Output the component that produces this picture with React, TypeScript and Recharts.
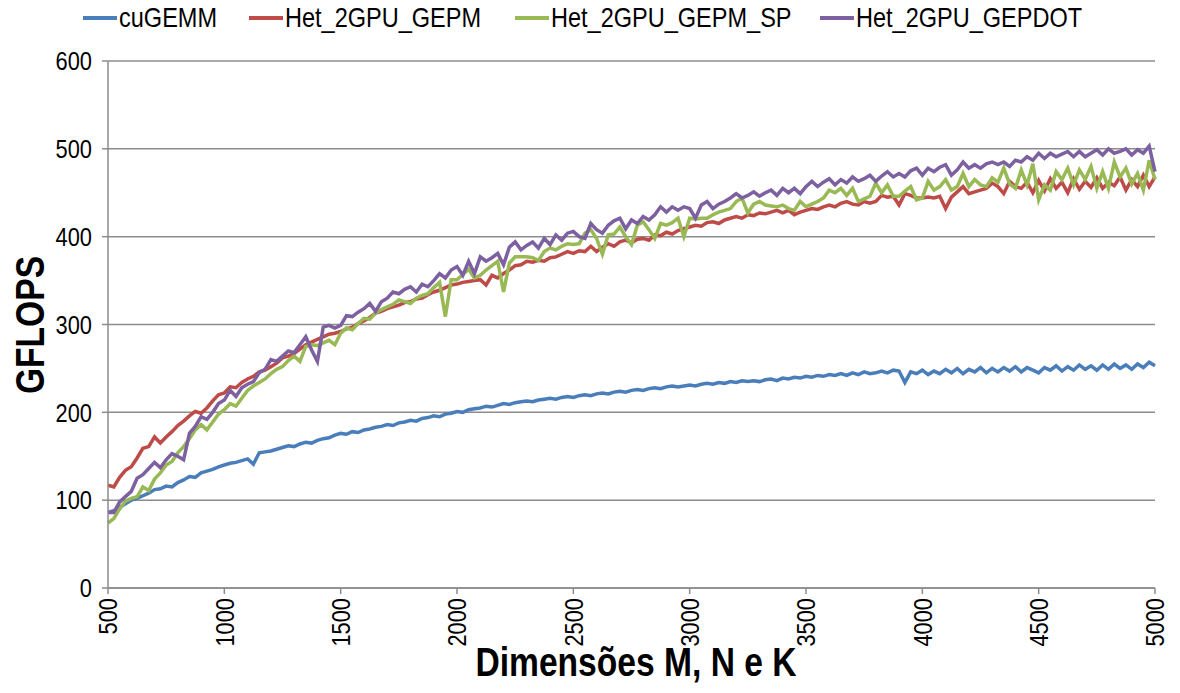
import React from 'react';
import { LineChart, Line, XAxis, YAxis, CartesianGrid } from 'recharts';

// matrix dimension M = N = K
const dims = [
  500, 525, 550, 575, 600, 625, 650, 675, 700, 725,
  750, 775, 800, 825, 850, 875, 900, 925, 950, 975,
  1000, 1025, 1050, 1075, 1100, 1125, 1150, 1175, 1200, 1225,
  1250, 1275, 1300, 1325, 1350, 1375, 1400, 1425, 1450, 1475,
  1500, 1525, 1550, 1575, 1600, 1625, 1650, 1675, 1700, 1725,
  1750, 1775, 1800, 1825, 1850, 1875, 1900, 1925, 1950, 1975,
  2000, 2025, 2050, 2075, 2100, 2125, 2150, 2175, 2200, 2225,
  2250, 2275, 2300, 2325, 2350, 2375, 2400, 2425, 2450, 2475,
  2500, 2525, 2550, 2575, 2600, 2625, 2650, 2675, 2700, 2725,
  2750, 2775, 2800, 2825, 2850, 2875, 2900, 2925, 2950, 2975,
  3000, 3025, 3050, 3075, 3100, 3125, 3150, 3175, 3200, 3225,
  3250, 3275, 3300, 3325, 3350, 3375, 3400, 3425, 3450, 3475,
  3500, 3525, 3550, 3575, 3600, 3625, 3650, 3675, 3700, 3725,
  3750, 3775, 3800, 3825, 3850, 3875, 3900, 3925, 3950, 3975,
  4000, 4025, 4050, 4075, 4100, 4125, 4150, 4175, 4200, 4225,
  4250, 4275, 4300, 4325, 4350, 4375, 4400, 4425, 4450, 4475,
  4500, 4525, 4550, 4575, 4600, 4625, 4650, 4675, 4700, 4725,
  4750, 4775, 4800, 4825, 4850, 4875, 4900, 4925, 4950, 4975,
  5000,
];

const cuGemm = [
  86, 88, 92, 96, 100, 102, 105, 108, 112, 113,
  116, 115, 120, 123, 127, 126, 131, 133, 135, 138,
  140, 142, 143, 145, 147, 141, 154, 155, 156, 158,
  160, 162, 161, 164, 166, 165, 168, 170, 171, 174,
  176, 175, 178, 177, 180, 181, 183, 184, 186, 185,
  188, 189, 191, 190, 193, 194, 196, 195, 198, 199,
  201, 200, 203, 204, 205, 207, 206, 208, 210, 209,
  211, 212, 213, 212, 214, 215, 216, 215, 217, 218,
  217, 219, 220, 219, 221, 222, 221, 223, 224, 223,
  225, 226, 225, 227, 228, 227, 229, 230, 229, 230,
  231, 230, 232, 233, 232, 234, 233, 235, 234, 236,
  235, 236, 235, 237, 238, 236, 239, 238, 240, 239,
  241, 240, 242, 241, 243, 242, 244, 242, 245, 243,
  246, 244, 245, 247, 245, 248, 247, 234, 246, 244,
  248, 243, 247, 244, 249, 245, 250, 244, 249, 246,
  251, 245, 250, 246, 251, 247, 252, 246, 251, 248,
  245, 251, 248, 253, 247, 252, 248, 254, 249, 253,
  248, 254, 249, 255, 250, 254, 249, 255, 251, 257,
  253,
];

const gepm = [
  117, 115, 126, 134, 138, 148, 159, 161, 172, 165,
  172, 178, 185, 190, 196, 201, 199, 205, 213, 220,
  222, 229, 228, 234, 238, 241, 246, 248, 252, 256,
  262, 264, 267, 272, 277, 280, 283, 286, 289, 290,
  292, 295, 297, 301, 304, 308, 313, 315, 318, 320,
  322, 325, 326, 329, 330, 334, 337, 339, 342, 345,
  346, 348, 349, 350, 351, 345, 356, 353, 358, 362,
  367, 368, 372, 371, 373, 372, 376, 377, 380, 383,
  381, 384, 383, 389, 383, 388, 392, 389, 394, 396,
  393, 397, 398, 396, 402, 401, 405, 403, 407, 409,
  411, 413, 412, 416, 417, 415, 419, 421, 423, 421,
  425, 424, 427, 426, 428, 430, 427, 430, 425, 428,
  430, 432, 431, 434, 436, 434, 438, 440, 437, 436,
  440, 438, 440, 447, 445, 446, 436, 449, 447, 444,
  444, 445, 444, 446, 432, 445, 451, 457, 449, 451,
  453, 455, 461, 457, 449, 463, 457, 455, 462, 450,
  464, 452, 466, 455, 462, 450, 466, 454, 463, 456,
  467, 455, 462, 458, 468, 453, 465, 457, 470, 457,
  468,
];

const gepmSp = [
  74, 79, 90, 99, 102, 104, 115, 111, 124, 131,
  140, 144, 154, 161, 170, 180, 186, 180, 189, 198,
  203, 210, 207, 216, 225, 230, 234, 238, 244, 249,
  252, 259, 264, 258, 275, 277, 276, 279, 282, 277,
  290, 296, 294, 301, 307, 306, 313, 317, 320, 323,
  328, 326, 324, 330, 333, 335, 342, 348, 309, 351,
  351, 357, 363, 353, 356, 362, 367, 372, 337, 370,
  377, 377, 377, 376, 373, 383, 387, 385, 389, 392,
  391, 392, 404, 408, 398, 380, 402, 403, 411, 400,
  391, 413, 417, 408, 398, 415, 413, 416, 421, 400,
  421, 420, 421, 421, 425, 428, 430, 432, 440, 444,
  427, 437, 440, 436, 435, 434, 436, 432, 430, 440,
  434, 437, 440, 444, 453, 450, 455, 447, 455, 440,
  443, 446, 461, 450, 459, 446, 446, 452, 457, 442,
  444, 463, 453, 457, 465, 453, 457, 472, 457, 465,
  459, 457, 467, 462, 478, 460, 455, 476, 459, 483,
  442, 459, 453, 474, 465, 478, 459, 476, 465, 480,
  455, 474, 455, 485, 468, 478, 460, 472, 453, 487,
  465,
];

const gepdot = [
  86, 86, 98, 104, 110, 125, 129, 136, 143, 137,
  146, 153, 150, 146, 176, 184, 195, 192, 200, 210,
  214, 225, 218, 228, 232, 235, 245, 249, 260, 258,
  264, 270, 268, 277, 286, 271, 258, 297, 299, 296,
  299, 310, 309, 314, 318, 324, 315, 326, 330, 337,
  335, 340, 343, 337, 346, 343, 350, 358, 353, 362,
  366, 356, 372, 358, 377, 372, 376, 381, 368, 388,
  394, 385, 390, 394, 387, 398, 391, 402, 396, 404,
  406, 400, 398, 415, 408, 404, 413, 418, 421, 409,
  419, 415, 423, 419, 425, 434, 428, 434, 430, 434,
  432, 421, 436, 440, 432, 437, 440, 444, 449, 444,
  447, 451, 446, 450, 453, 447, 455, 450, 455, 449,
  457, 463, 457, 462, 466, 459, 465, 461, 468, 463,
  466, 470, 463, 469, 474, 468, 472, 468, 475, 478,
  470, 478, 474, 479, 482, 470, 476, 485, 478, 482,
  478, 483, 485, 482, 485, 480, 487, 485, 491, 487,
  495, 489, 495, 491, 494, 497, 491, 497, 491, 495,
  499, 493, 500, 495, 497, 500, 493, 499, 495, 503,
  474,
];

const xTicks = [500, 1000, 1500, 2000, 2500, 3000, 3500, 4000, 4500, 5000];
const yTicks = [0, 100, 200, 300, 400, 500, 600];

const seriesNames = ['cuGEMM', 'Het_2GPU_GEPM', 'Het_2GPU_GEPM_SP', 'Het_2GPU_GEPDOT'];
const seriesColors = ['#4A7EBB', '#BE4B48', '#98B954', '#7D60A0'];

const FONT = '"Liberation Sans", Arial, sans-serif';
// the original text is a condensed face; squeeze the regular one
const SQUEEZE = 0.84;

const data = dims.map((d, i) => ({
  dim: d,
  s0: cuGemm[i],
  s1: gepm[i],
  s2: gepmSp[i],
  s3: gepdot[i],
}));

const legendLeft = [83, 249, 515, 820];

const XTick = (props: any) => {
  const { x, y, payload } = props;
  return (
    <g transform={`translate(${x}, ${y}) rotate(-90) scale(${SQUEEZE}, 1)`}>
      <text x={0} y={0} textAnchor="end" dominantBaseline="central" fontFamily={FONT} fontSize={26} fill="#000">
        {payload.value}
      </text>
    </g>
  );
};

const YTick = (props: any) => {
  const { x, y, payload } = props;
  return (
    <g transform={`translate(${x}, ${y}) scale(${SQUEEZE}, 1)`}>
      <text x={0} y={0} textAnchor="end" dominantBaseline="central" fontFamily={FONT} fontSize={26} fill="#000">
        {payload.value}
      </text>
    </g>
  );
};

export default function App() {
  return (
    <div style={{ position: 'absolute', left: 0, top: 0, width: 1180, height: 693, background: '#fff' }}>
      <LineChart
        width={1180}
        height={693}
        data={data}
        margin={{ top: 61, right: 25, left: 0, bottom: 0 }}
      >
        <CartesianGrid vertical={false} stroke="#8c8c8c" strokeWidth={1.5} />
        <XAxis
          dataKey="dim"
          type="number"
          domain={[500, 5000]}
          ticks={xTicks}
          interval={0}
          height={105}
          stroke="#8c8c8c"
          strokeWidth={1.5}
          tickSize={6}
          tickMargin={4}
          tick={<XTick />}
        />
        <YAxis
          domain={[0, 600]}
          ticks={yTicks}
          width={108}
          stroke="#8c8c8c"
          strokeWidth={1.5}
          tickSize={6}
          tickMargin={10}
          tick={<YTick />}
        />
        {seriesNames.map((n, k) => (
          <Line
            key={n}
            name={n}
            dataKey={`s${k}`}
            stroke={seriesColors[k]}
            strokeWidth={3.5}
            dot={false}
            isAnimationActive={false}
          />
        ))}
      </LineChart>

      {seriesNames.map((n, k) => (
        <div
          key={n}
          style={{
            position: 'absolute',
            left: legendLeft[k],
            top: 2,
            height: 32,
            display: 'flex',
            alignItems: 'center',
            fontFamily: FONT,
            fontSize: 28,
            color: '#000',
            whiteSpace: 'nowrap',
          }}
        >
          <span style={{ display: 'inline-block', width: 34, height: 4, background: seriesColors[k], marginRight: 2 }} />
          <span style={{ display: 'inline-block', transform: `scaleX(${SQUEEZE})`, transformOrigin: 'left center' }}>{n}</span>
        </div>
      ))}

      <div
        style={{
          position: 'absolute',
          left: 30,
          top: 325,
          transform: `translate(-50%, -50%) rotate(-90deg) scaleX(${SQUEEZE})`,
          fontFamily: FONT,
          fontWeight: 'bold',
          fontSize: 40,
          whiteSpace: 'nowrap',
          color: '#000',
        }}
      >
        GFLOPS
      </div>
      <div
        style={{
          position: 'absolute',
          left: 636,
          top: 662,
          transform: `translate(-50%, -50%) scaleX(${SQUEEZE})`,
          fontFamily: FONT,
          fontWeight: 'bold',
          fontSize: 40,
          whiteSpace: 'nowrap',
          color: '#000',
        }}
      >
        Dimensões M, N e K
      </div>
    </div>
  );
}
